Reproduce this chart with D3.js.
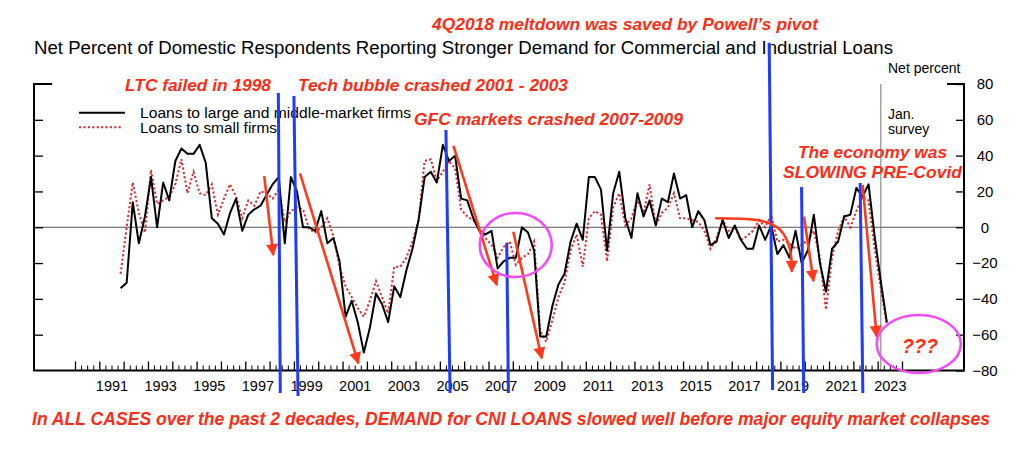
<!DOCTYPE html>
<html>
<head>
<meta charset="utf-8">
<script src="https://cdn.jsdelivr.net/npm/d3@7.9.0/dist/d3.min.js"></script>
<style>
  html, body { margin: 0; padding: 0; background: #fff; }
  svg { display: block; font-family: "Liberation Sans", Arial, Helvetica, sans-serif; }
  .note { fill: #ff2b14; font-weight: bold; font-style: italic; }
  .axis line { stroke: #000; stroke-width: 1.3; }
  .axis text { font-family: "Liberation Sans", Arial, sans-serif; fill: #000; }
</style>
</head>
<body>
<svg id="chart" width="1024" height="455"></svg>
<script>
// DATA (quarterly, first survey 1991Q4, plotted mid-quarter)
const firstQuarter = 1991.875;

const largeFirms = [
  -34, -31, 14, -9, 6, 28, 0, 25, 15, 37,
  44, 41, 41, 46, 36, 5, 2, -4, 8, 16,
  -2, 7, 10, 12, 18, 24, 28, -9, 28, 20,
  0, 0, -2, 9, -9, -6, -19, -50, -41, -53,
  -70, -56, -37, -43, -53, -33, -39, -24, -12, 4,
  28, 31, 25, 46, 37, 40, 16, 15, 5, -2,
  -4, -2, -23, -19, -17, -17, 0, -3, -13, -61,
  -61, -44, -32, -26, -8, 2, -7, 28, 28, 21,
  -13, 19, 31, 5, -6, 19, 6, 15, 1, 16,
  14, 30, 16, 18, 0, 9, 4, -10, -8, 4,
  -6, 1, -7, -12, -12, 1, -7, 1, -15, -10,
  -17, -2, -20, -13, 7, -20, -36, -12, -8, 6,
  7, 22, 17, 24, -5, -30, -53
];

const smallFirms = [
  -26, 0, 25, 8, -3, 32, 13, 15, 17, 24,
  38, 19, 31, 19, 18, 24, 7, 16, 24, 17,
  5, 15, 12, 20, 19, 16, 21, 3, 9, 11,
  10, -1, -3, 0, 5, -5, -22, -33, -39, -45,
  -50, -41, -30, -39, -48, -22, -22, -17, -8, 4,
  37, 38, 26, 31, 37, 33, 10, 6, 4, -1,
  -6, -10, -17, -11, -8, -21, -17, -15, -8, -58,
  -64, -52, -39, -31, -13, -4, -22, 5, 9, 7,
  -19, 11, 19, 1, 5, 15, 8, 24, 1, 8,
  11, 19, 5, 5, 4, 3, -2, -12, -6, 4,
  -2, 0, -7, -5, -2, 4, 0, 7, -8, -7,
  -9, -12, -10, -7, -2, -17, -46, -17, -2, 6,
  0, 9, 17, 15, -12, -34, -54
];

const quarters = largeFirms.map((_, i) => firstQuarter + i * 0.25);

const yearLabels = [1991, 1993, 1995, 1997, 1999, 2001, 2003, 2005, 2007,
  2009, 2011, 2013, 2015, 2017, 2019, 2021, 2023];
const percentTicks = [-80, -60, -40, -20, 0, 20, 40, 60, 80];
const janSurvey = 2023.13;

// annotation shapes in [year, percent]
const blueLines = [
  [[1998.36, 75], [1998.44, -92.6]],
  [[1999.0, 73.3], [1999.17, -94.2]],
  [[2005.25, 54.3], [2005.42, -92.6]],
  [[2007.75, -8.8], [2007.82, -92.6]],
  [[2018.54, 103], [2018.68, -90.9]],
  [[2019.87, 22.5], [2019.96, -92.6]],
  [[2022.28, 24.7], [2022.39, -92.6]]
];

const arrows = [
  [[1997.78, 28.6], [1998.15, -15.5]],
  [[1999.25, 30.1], [2001.65, -76]],
  [[2005.56, 45.4], [2007.34, -32.3]],
  [[2008.02, -2.5], [2009.19, -73.2]],
  [[2016.32, 5], [2018.03, 4], [2018.99, -1.5], [2019.4, -12.7], [2019.47, -24.8]],
  [[2019.97, 5.9], [2020.36, -30]],
  [[2022.38, 23.6], [2022.96, -61.1]]
];

const circles = [
  { year: 2008.12, pct: -9.9, dYear: 1.48, dPct: 17.9 },
  { year: 2024.69, pct: -65.2, dYear: 1.73, dPct: 16.2 }
];

const notes = [
  { text: '4Q2018 meltdown was saved by Powell\u2019s pivot', x: 432, y: 30, w: 386, size: 17 },
  { text: 'LTC failed in 1998', x: 125, y: 91, w: 146, size: 17 },
  { text: 'Tech bubble crashed 2001 - 2003', x: 298, y: 91, w: 270, size: 17 },
  { text: 'GFC markets crashed 2007-2009', x: 414, y: 125, w: 269, size: 17 },
  { text: 'The economy was', x: 798, y: 158, w: 149, size: 17 },
  { text: 'SLOWING PRE-Covid', x: 783, y: 178, w: 179, size: 17 },
  { text: '???', x: 902, y: 353, w: 36, size: 20 },
  { text: 'In ALL CASES over the past 2 decades, DEMAND for CNI LOANS slowed well before major equity market collapses', x: 32, y: 425, w: 958, size: 17.5 }
];

// LAYOUT
const frame = { left: 34, right: 964, top: 84, bottom: 370.5 };
const red = '#ff3a1c';
const blue = '#1e3cff';
const pink = '#f24df2';

const x = d3.scaleLinear().domain([1990, 2024]).range([75, 902]);
const y = d3.scaleLinear().domain([-80, 80]).range([frame.bottom, frame.top]);

const svg = d3.select('#chart');

const defs = svg.append('defs');
defs.append('marker')
  .attr('id', 'head')
  .attr('viewBox', '0 0 10 10')
  .attr('refX', 9)
  .attr('refY', 5)
  .attr('markerWidth', 13)
  .attr('markerHeight', 12)
  .attr('markerUnits', 'userSpaceOnUse')
  .attr('orient', 'auto')
  .append('path')
  .attr('d', 'M0,0 L10,5 L0,10 Z')
  .attr('fill', red);

// TITLE
svg.append('text')
  .attr('x', 34)
  .attr('y', 54)
  .attr('textLength', 859)
  .attr('lengthAdjust', 'spacingAndGlyphs')
  .style('font-size', '18px')
  .text('Net Percent of Domestic Respondents Reporting Stronger Demand for Commercial and Industrial Loans');

// zero line and survey marker
svg.append('line')
  .attr('x1', frame.left).attr('x2', frame.right)
  .attr('y1', y(0)).attr('y2', y(0))
  .attr('stroke', '#555').attr('stroke-width', 1);

svg.append('line')
  .attr('x1', x(janSurvey)).attr('x2', x(janSurvey))
  .attr('y1', frame.top).attr('y2', frame.bottom)
  .attr('stroke', '#777').attr('stroke-width', 1);

// FRAME
svg.append('path')
  .attr('d', `M${frame.left + 18},${frame.top}H${frame.left}V${frame.bottom}H${frame.right}V${frame.top}H${frame.right - 17}`)
  .attr('fill', 'none')
  .attr('stroke', '#000')
  .attr('stroke-width', 2);

// AXES
svg.append('g')
  .attr('class', 'axis')
  .attr('transform', `translate(0,${frame.bottom})`)
  .call(d3.axisBottom(x).tickValues(d3.range(1990, 2025)).tickSize(-9).tickFormat(''))
  .call(g => g.select('.domain').remove());

svg.append('g')
  .attr('class', 'axis')
  .attr('transform', `translate(0,${frame.bottom})`)
  .call(d3.axisBottom(x)
    .tickValues(d3.range(1990, 2024, 0.25).filter(d => d % 1 !== 0))
    .tickSize(-5).tickFormat(''))
  .call(g => g.select('.domain').remove())
  .call(g => g.selectAll('line').style('stroke-width', 1));

svg.append('g')
  .attr('class', 'axis')
  .attr('transform', `translate(0,${frame.bottom})`)
  .call(d3.axisBottom(x)
    .tickValues(yearLabels.map(d => d + 0.5))
    .tickSize(0).tickPadding(10.5)
    .tickFormat(d => Math.floor(d)))
  .call(g => g.select('.domain').remove())
  .call(g => g.selectAll('text').style('font-size', '14.5px'));

svg.append('g')
  .attr('class', 'axis')
  .attr('transform', `translate(${frame.left},0)`)
  .call(d3.axisLeft(y).tickValues(percentTicks.slice(1, -1)).tickSize(-9).tickFormat(''))
  .call(g => g.select('.domain').remove());

svg.append('g')
  .attr('class', 'axis')
  .attr('transform', `translate(${frame.right},0)`)
  .call(d3.axisRight(y).tickValues(percentTicks).tickSize(-8))
  .call(g => g.select('.domain').remove())
  .call(g => g.selectAll('text')
    .attr('x', 21)
    .attr('text-anchor', 'middle')
    .style('font-size', '15px'));

svg.append('text')
  .attr('x', 888).attr('y', 73)
  .style('font-size', '14px')
  .text('Net percent');

svg.append('text')
  .attr('x', 888).attr('y', 119)
  .style('font-size', '14px')
  .text('Jan.');

svg.append('text')
  .attr('x', 888).attr('y', 134)
  .style('font-size', '14px')
  .text('survey');

// SERIES
const line = d3.line()
  .x((d, i) => x(quarters[i]))
  .y(d => y(d));

svg.append('path')
  .datum(smallFirms)
  .attr('d', line)
  .attr('fill', 'none')
  .attr('stroke', '#d42f36')
  .attr('stroke-width', 2)
  .attr('stroke-dasharray', '2.2,2.2');

svg.append('path')
  .datum(largeFirms)
  .attr('d', line)
  .attr('fill', 'none')
  .attr('stroke', '#000')
  .attr('stroke-width', 2)
  .attr('stroke-linejoin', 'round');

// LEGEND
const legend = svg.append('g');
legend.append('line')
  .attr('x1', 79).attr('x2', 125).attr('y1', 112.7).attr('y2', 112.7)
  .attr('stroke', '#000').attr('stroke-width', 2);
legend.append('line')
  .attr('x1', 79).attr('x2', 123).attr('y1', 127.3).attr('y2', 127.3)
  .attr('stroke', '#d42f36').attr('stroke-width', 2)
  .attr('stroke-dasharray', '2.2,2.2');
legend.append('text')
  .attr('x', 140).attr('y', 117.5)
  .attr('textLength', 271)
  .attr('lengthAdjust', 'spacingAndGlyphs')
  .style('font-size', '15.5px')
  .text('Loans to large and middle-market firms');
legend.append('text')
  .attr('x', 140).attr('y', 132.5)
  .attr('textLength', 137)
  .attr('lengthAdjust', 'spacingAndGlyphs')
  .style('font-size', '15.5px')
  .text('Loans to small firms');

// ANNOTATIONS
const pt = d3.line().x(d => x(d[0])).y(d => y(d[1]));

svg.append('g')
  .selectAll('path')
  .data(blueLines)
  .join('path')
  .attr('d', pt)
  .attr('stroke', blue)
  .attr('stroke-width', 3)
  .attr('fill', 'none');

svg.append('g')
  .selectAll('path')
  .data(arrows)
  .join('path')
  .attr('d', d => (d.length > 2 ? pt.curve(d3.curveNatural) : pt.curve(d3.curveLinear))(d))
  .attr('stroke', red)
  .attr('stroke-width', 2.6)
  .attr('fill', 'none')
  .attr('marker-end', 'url(#head)');

svg.append('g')
  .selectAll('ellipse')
  .data(circles)
  .join('ellipse')
  .attr('cx', d => x(d.year))
  .attr('cy', d => y(d.pct))
  .attr('rx', d => x(d.year + d.dYear) - x(d.year))
  .attr('ry', d => y(d.pct - d.dPct) - y(d.pct))
  .attr('fill', 'none')
  .attr('stroke', pink)
  .attr('stroke-width', 2.6);

svg.append('g')
  .selectAll('text')
  .data(notes)
  .join('text')
  .attr('class', 'note')
  .attr('x', d => d.x)
  .attr('y', d => d.y)
  .attr('textLength', d => d.w)
  .attr('lengthAdjust', 'spacingAndGlyphs')
  .style('font-size', d => `${d.size}px`)
  .text(d => d.text);
</script>
</body>
</html>
